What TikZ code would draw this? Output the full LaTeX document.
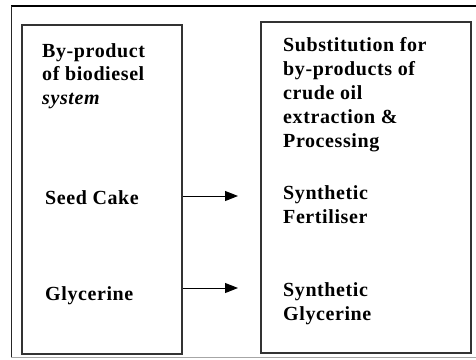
\documentclass[tikz,border=0pt]{standalone}
\usepackage{fontspec}
\setmainfont{Liberation Serif}[LetterSpace=3]
\usetikzlibrary{arrows.meta}
\tikzset{
  box/.style={draw=black!80, line width=2pt, inner sep=0pt, anchor=north west},
  lbl/.style={anchor=base west, inner sep=0pt, align=left,
    font=\fontsize{20}{24}\selectfont\bfseries},
  arr/.style={line width=1pt, -{Triangle[length=13pt,width=10pt]}},
}
\begin{document}
\begin{tikzpicture}[x=1pt,y=-1pt]
\useasboundingbox (0,0) rectangle (476,359);
% outer frame
\draw[black, line width=2pt] (11,6) -- (478,6);
\draw[black!85, line width=1.5pt] (11.5,6) -- (11.5,358);
\draw[black!35, line width=1pt] (11,357.5) -- (478,357.5);
% boxes
\node[box, minimum width=160pt, minimum height=329pt] (L) at (21,24) {};
\node[box, minimum width=210pt, minimum height=331pt] (R) at (260,21) {};
% texts (anchored at the baseline of their last line)
\node[lbl, font=\fontsize{20}{23.5}\selectfont\bfseries] (t1) at (42,104) {By-product\\of biodiesel\\{\itshape system}};
\node[lbl] (t2) at (45,204) {Seed Cake};
\node[lbl] (t3) at (45,300) {Glycerine};
\node[lbl] (t4) at (283,147) {Substitution for\\by-products of\\crude oil\\extraction \&\\Processing};
\node[lbl] (t5) at (283,223) {Synthetic\\Fertiliser};
\node[lbl] (t6) at (283,320) {Synthetic\\Glycerine};
% arrows
\coordinate (a1) at (238,196);
\coordinate (a2) at (238,288);
\draw[arr] (L.east |- a1) -- (a1);
\draw[arr] (L.east |- a2) -- (a2);
\end{tikzpicture}
\end{document}
